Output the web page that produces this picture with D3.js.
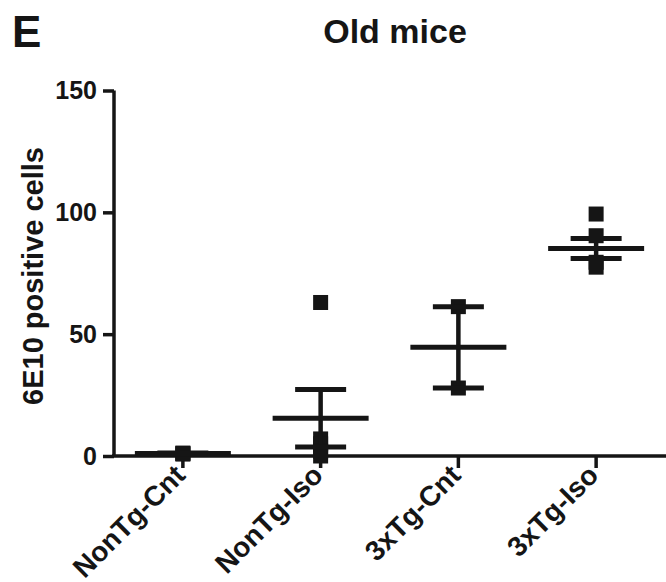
<!DOCTYPE html>
<html>
<head>
<meta charset="utf-8">
<script src="https://cdn.jsdelivr.net/npm/d3@7"></script>
<style>
  body { margin: 0; background: #fff; }
  text { font-family: "Liberation Sans", Arial, sans-serif; font-weight: bold; fill: #151515; }
</style>
</head>
<body>
<script>
var groups = ["NonTg-Cnt", "NonTg-Iso", "3xTg-Cnt", "3xTg-Iso"];
var points = [
    [1.2, 0.8, 1.0],
    [63, 7, 5, 2, 0],
    [61.3, 27.9],
    [99.3, 90.4, 79.5, 77.5]
];
var means = [1.0, 15.5, 44.6, 85.2];
var sems = [0.2, 11.8, 16.7, 4.1];
var yTicks = [0, 50, 100, 150];

var width = 666, height = 582;
var ink = "#151515";

var svg = d3.select("body").append("svg")
    .attr("width", width)
    .attr("height", height);

var x = d3.scaleBand()
    .domain(groups)
    .range([114, 665]);

var y = d3.scaleLinear()
    .domain([0, 150])
    .range([456, 90.5]);

function cx(g) { return x(g) + x.bandwidth() / 2; }

// y axis
var yAxis = svg.append("g")
    .attr("transform", "translate(114,0)")
    .call(d3.axisLeft(y).tickValues(yTicks).tickSize(11).tickPadding(6));
yAxis.select(".domain").attr("d", "M0," + y(150) + "V" + y(0));
yAxis.selectAll("path, line").attr("stroke", ink).attr("stroke-width", 3.5);
yAxis.selectAll("text")
    .style("font-size", "25px")
    .attr("fill", ink);

// x axis
var xAxis = svg.append("g")
    .attr("transform", "translate(0," + y(0) + ")")
    .call(d3.axisBottom(x).tickSize(12).tickSizeOuter(0).tickFormat(""));
xAxis.select(".domain").attr("d", "M112,0H666");
xAxis.selectAll("path, line").attr("stroke", ink).attr("stroke-width", 3.5);

svg.append("g").selectAll("text")
    .data(groups)
    .enter()
    .append("text")
    .attr("text-anchor", "end")
    .attr("font-size", 28)
    .attr("transform", function(d) {
        return "translate(" + (cx(d) + 4) + "," + (y(0) + 21) + ") rotate(-45)";
    })
    .text(function(d) { return d; });

// points
var pts = [];
groups.forEach(function(g, i) {
    points[i].forEach(function(v) { pts.push({g: g, v: v}); });
});
svg.append("g").selectAll("rect")
    .data(pts)
    .enter()
    .append("rect")
    .attr("x", function(d) { return cx(d.g) - 7.5; })
    .attr("y", function(d) { return y(d.v) - 7.5; })
    .attr("width", 15)
    .attr("height", 15)
    .attr("fill", ink);

// mean and sem
var bars = svg.append("g")
    .attr("stroke", ink)
    .attr("stroke-width", 5);

groups.forEach(function(g, i) {
    var c = cx(g);
    bars.append("line")
        .attr("x1", c).attr("x2", c)
        .attr("y1", y(means[i] + sems[i]))
        .attr("y2", y(means[i] - sems[i]))
        .attr("stroke-width", 4.5);
    [means[i] + sems[i], means[i] - sems[i]].forEach(function(v) {
        bars.append("line")
            .attr("x1", c - 25.5).attr("x2", c + 25.5)
            .attr("y1", y(v)).attr("y2", y(v));
    });
    bars.append("line")
        .attr("x1", c - 48).attr("x2", c + 48)
        .attr("y1", y(means[i])).attr("y2", y(means[i]));
});

// y title
svg.append("text")
    .attr("text-anchor", "middle")
    .attr("font-size", 29)
    .attr("transform", "translate(43,276) rotate(-90)")
    .text("6E10 positive cells");

// title and panel letter
svg.append("text")
    .attr("x", 395)
    .attr("y", 43)
    .attr("text-anchor", "middle")
    .attr("font-size", 34)
    .text("Old mice");

svg.append("text")
    .attr("x", 12)
    .attr("y", 46.5)
    .attr("font-size", 44)
    .text("E");
</script>
</body>
</html>
